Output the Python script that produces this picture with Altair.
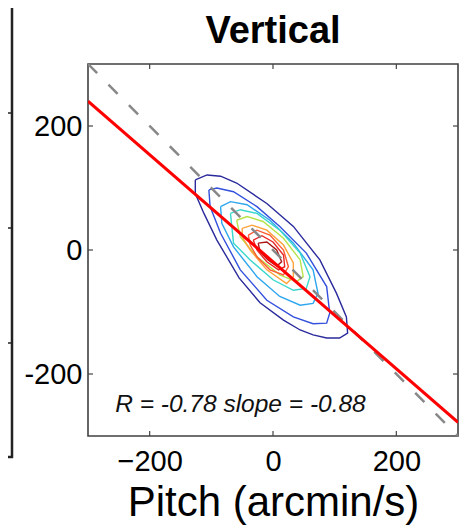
import altair as alt
import pandas as pd

# ---- data ----
x_ticks = [-200, 0, 200]
y_ticks = [-200, 0, 200]

# diagonal (unity, slope -1) and regression fit line endpoints
diag_x = [-300, 300]
diag_y = [300, -300]
fit_x = [-300, 300]
fit_y = [240, -278]

# contour lines, outermost -> innermost (pitch, vertical) in arcmin/s
contour_colors = ["#2a2a9c", "#3250dc", "#2ea6ee", "#38d8cc", "#b5e34a",
                  "#ffa23a", "#ff5a34", "#e82626", "#a81616"]
c1 = [(-126, 113), (-107, 121), (-85, 119), (-59, 108), (-10, 75), (33, 38), (76, -16),
      (103, -70), (119, -108), (121, -134), (108, -142), (87, -142), (65, -137), (44, -129),
      (17, -113), (-21, -85), (-55, -45), (-91, 16), (-112, 59), (-126, 91)]
c2 = [(-104, 97), (-91, 100), (-64, 94), (-26, 70), (11, 38), (54, -5), (87, -59),
      (92, -102), (87, -118), (65, -119), (33, -108), (-10, -81), (-53, -32), (-85, 27),
      (-102, 70)]
c3 = [(-85, 70), (-69, 78), (-42, 73), (-5, 48), (33, 11), (65, -32), (73, -70),
      (65, -86), (44, -89), (11, -75), (-26, -43), (-64, 5), (-83, 43)]
c4 = [(-69, 59), (-53, 65), (-26, 59), (11, 32), (44, -5), (60, -43), (54, -62),
      (33, -65), (0, -48), (-37, -16), (-64, 11)]
c5 = [(-59, 48), (-42, 54), (-16, 46), (17, 19), (44, -16), (49, -43), (38, -51),
      (11, -40), (-26, -11), (-53, 21)]
c6 = [(-50, 35), (-34, 40), (-10, 32), (17, 8), (33, -21), (33, -43), (22, -54),
      (-10, -32), (-37, 0), (-50, 21)]
c7 = [(-40, 24), (-26, 32), (-5, 24), (17, 0), (25, -27), (17, -40), (-5, -32),
      (-26, -11), (-37, 8)]
c8 = [(-32, 16), (-18, 23), (0, 13), (17, -8), (19, -27), (9, -32), (-10, -19), (-26, 0)]
c9 = [(-24, 11), (-10, 13), (6, 0), (14, -19), (6, -26), (-8, -16), (-21, -3)]
contours = [c1, c2, c3, c4, c5, c6, c7, c8, c9]

title_text = "Vertical"
annotation = "R = -0.78 slope = -0.88"
annot_x = -256
annot_y = -262

# ---- tables ----
rows = []
for lvl, pts in enumerate(contours):
    closed = pts + [pts[0]]
    for i, (px, py) in enumerate(closed):
        rows.append({"x": px, "y": py, "level": lvl, "i": i})
cont_df = pd.DataFrame(rows)
diag_df = pd.DataFrame({"x": diag_x, "y": diag_y})
fit_df = pd.DataFrame({"x": fit_x, "y": fit_y})
xt_df = pd.DataFrame({"x": x_ticks})
yt_df = pd.DataFrame({"y": y_ticks})
txt_df = pd.DataFrame({"x": [annot_x], "y": [annot_y], "t": [annotation]})
ttl_df = pd.DataFrame({"t": [title_text]})
one = pd.DataFrame({"a": [0]})

FONT = "Liberation Sans"
W, H = 370, 372
dom = [-300, 300]

xaxis = alt.Axis(values=x_ticks, domain=False, ticks=False, tickSize=0, grid=False,
                 labelFontSize=29, labelFont=FONT, labelColor="black",
                 labelPadding=34, labelBaseline="alphabetic",
                 title="Pitch (arcmin/s)", titleFontSize=42, titleFont=FONT,
                 titleFontWeight="normal", titleColor="black",
                 titleBaseline="alphabetic", titleY=79, titleX=W / 2)
yaxis = alt.Axis(values=y_ticks, domain=False, ticks=False, tickSize=0, grid=False,
                 labelFontSize=29, labelFont=FONT, labelColor="black",
                 labelPadding=6, labelExpr="replace(datum.label, '\u2212', '-')",
                 title=None)

X = alt.X("x:Q", scale=alt.Scale(domain=dom, nice=False, zero=False), axis=xaxis)
Y = alt.Y("y:Q", scale=alt.Scale(domain=dom, nice=False, zero=False), axis=yaxis)

cont = alt.Chart(cont_df).mark_line(strokeWidth=1.4, clip=True).encode(
    x=X, y=Y, order="i:Q", detail="level:N",
    color=alt.Color("level:N", scale=alt.Scale(domain=list(range(len(contours))),
                                               range=contour_colors), legend=None))
diag = alt.Chart(diag_df).mark_line(color="#888888", strokeWidth=2.5,
                                    strokeDash=[13, 16], clip=True).encode(x=X, y=Y)
fit = alt.Chart(fit_df).mark_line(color="#ff0000", strokeWidth=3, clip=True).encode(x=X, y=Y)
txt = alt.Chart(txt_df).mark_text(font=FONT, fontSize=24.5, fontStyle="italic",
                                  align="left", baseline="alphabetic",
                                  color="#111").encode(x=X, y=Y, text="t:N")
ttl = alt.Chart(ttl_df).mark_text(font=FONT, fontSize=38, fontWeight="bold",
                                  align="center", baseline="alphabetic",
                                  color="black").encode(
    x=alt.value(W / 2), y=alt.value(-21), text="t:N")

TC = "#444"
tick_b = alt.Chart(xt_df).mark_rule(color=TC, strokeWidth=1.2).encode(
    x=X, y=alt.value(H), y2=alt.value(H - 5))
tick_t = alt.Chart(xt_df).mark_rule(color=TC, strokeWidth=1.2).encode(
    x=X, y=alt.value(0), y2=alt.value(5))
tick_l = alt.Chart(yt_df).mark_rule(color=TC, strokeWidth=1.2).encode(
    y=Y, x=alt.value(0), x2=alt.value(5))
tick_r = alt.Chart(yt_df).mark_rule(color=TC, strokeWidth=1.2).encode(
    y=Y, x=alt.value(W), x2=alt.value(W - 5))

# edge of the neighbouring panel (cropped) on the far left
NC = "#222"
nb_line = alt.Chart(one).mark_rule(color=NC, strokeWidth=2.5).encode(
    x=alt.value(-76), y=alt.value(-64), y2=alt.value(394))
nb_bot = alt.Chart(one).mark_rule(color=NC, strokeWidth=2.5).encode(
    x=alt.value(-90), x2=alt.value(-75), y=alt.value(393))
nb_t1 = alt.Chart(one).mark_rule(color=NC, strokeWidth=1.5).encode(
    x=alt.value(-83), x2=alt.value(-76), y=alt.value(49))
nb_t2 = alt.Chart(one).mark_rule(color=NC, strokeWidth=1.5).encode(
    x=alt.value(-83), x2=alt.value(-76), y=alt.value(164))
nb_t3 = alt.Chart(one).mark_rule(color=NC, strokeWidth=1.5).encode(
    x=alt.value(-83), x2=alt.value(-76), y=alt.value(279))

chart = alt.layer(
    cont, diag, fit, txt, ttl, tick_b, tick_t, tick_l, tick_r,
    nb_line, nb_bot, nb_t1, nb_t2, nb_t3
).properties(
    width=W, height=H,
    autosize=alt.AutoSizeParams(type="none"),
    padding={"left": 80, "top": 56, "right": 4, "bottom": 89},
).configure_view(stroke="#404040", strokeWidth=1.6)

chart.save("out.html", embed_options={"renderer": "svg", "actions": False})
